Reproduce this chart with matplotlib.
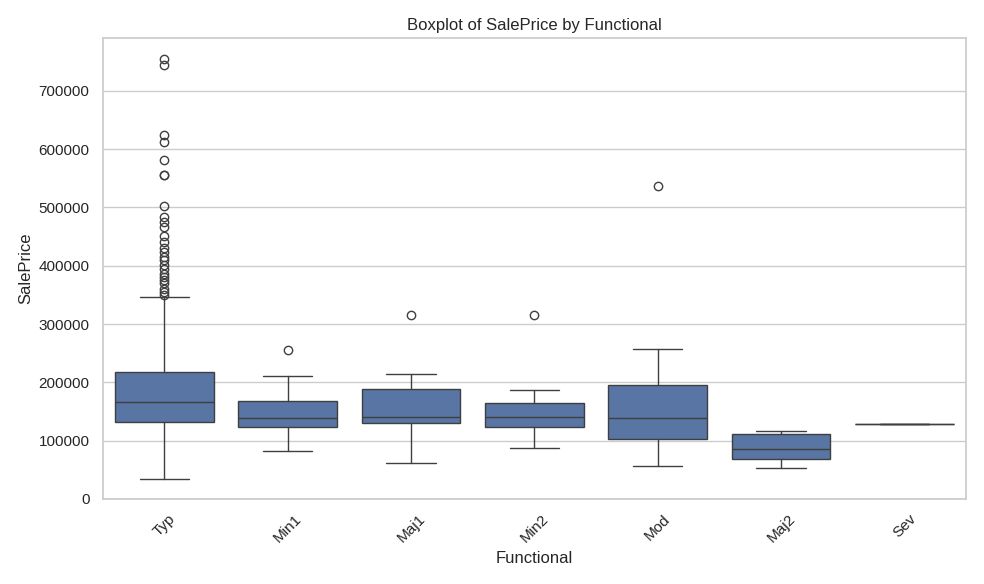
import matplotlib
matplotlib.use("Agg")
import matplotlib.pyplot as plt
import seaborn as sns

sns.set_theme(style="whitegrid")
plt.rcParams['font.family'] = ['Liberation Sans', 'DejaVu Sans']

categories = ["Typ", "Min1", "Maj1", "Min2", "Mod", "Maj2", "Sev"]
whislo = [35000, 82000, 61000, 87000, 56000, 53000, 129000]
q1 = [132700, 124000, 131000, 124000, 103000, 68000, 129000]
med = [166000, 139000, 140000, 140000, 139000, 86000, 129000]
q3 = [217000, 167500, 189000, 164000, 196000, 111000, 129000]
whishi = [346000, 210000, 214000, 186000, 257000, 116000, 129000]
fliers = [
    [755000, 745000, 625000, 612000, 582000, 556000, 555000, 502000, 484000,
     475000, 466000, 451000, 440000, 430000, 424000, 415000, 410000, 402000,
     395000, 386000, 381000, 375000, 370000, 360000, 355000, 350000],
    [256000],
    [315000],
    [316000],
    [537000],
    [],
    [],
]

stats = []
for i, c in enumerate(categories):
    stats.append(dict(label=c, whislo=whislo[i], q1=q1[i], med=med[i],
                      q3=q3[i], whishi=whishi[i], fliers=fliers[i]))

fig, ax = plt.subplots(figsize=(9.84, 5.84), dpi=100)
box_color = sns.desaturate("#4c72b0", 0.75)
line = "#3f3f3f"
ax.bxp(stats, positions=range(len(categories)), widths=0.8, patch_artist=True,
       boxprops=dict(facecolor=box_color, edgecolor=line, linewidth=1),
       medianprops=dict(color=line, linewidth=1),
       whiskerprops=dict(color=line, linewidth=1),
       capprops=dict(color=line, linewidth=1),
       flierprops=dict(marker="o", markerfacecolor="none", markeredgecolor=line,
                       markersize=6, linewidth=0),
       capwidths=0.4)
ax.set_xlim(-0.5, len(categories) - 0.5)
ax.set_ylim(0, 790000)
ax.xaxis.grid(False)
ax.set_xticks(range(len(categories)))
ax.set_xticklabels(categories, rotation=45)
ax.set_xlabel("Functional")
ax.set_ylabel("SalePrice")
ax.set_title("Boxplot of SalePrice by Functional")
plt.tight_layout()
plt.savefig("out.png")
